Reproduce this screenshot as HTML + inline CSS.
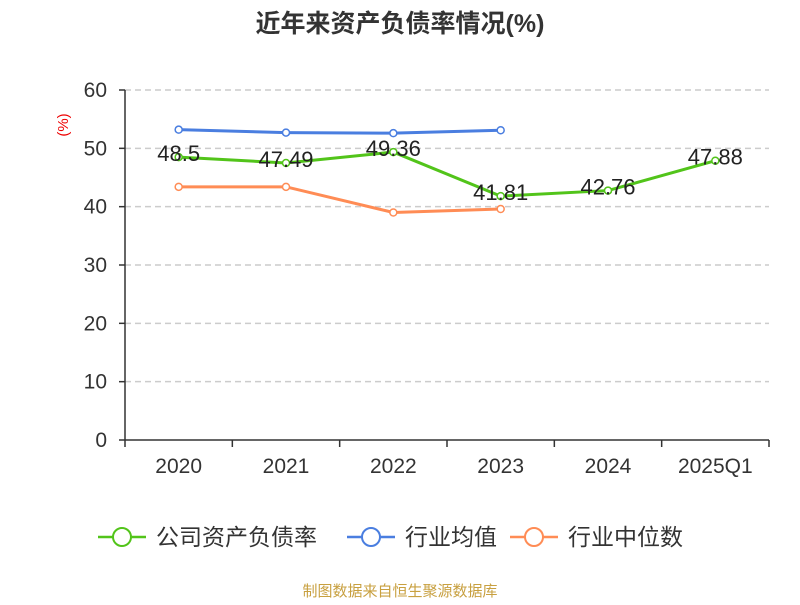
<!DOCTYPE html>
<html><head><meta charset="utf-8"><style>
body{margin:0;background:#fff;font-family:"Liberation Sans","Noto Sans CJK SC",sans-serif;}
</style></head><body>
<svg width="800" height="600" xmlns="http://www.w3.org/2000/svg" font-family="Liberation Sans, Noto Sans CJK SC, sans-serif">
<text x="400" y="32" text-anchor="middle" font-size="25" font-weight="bold" fill="#333">近年来资产负债率情况(%)</text>
<text transform="translate(68,125) rotate(-90)" text-anchor="middle" font-size="15" fill="#e00">(%)</text>
<g id="grid"></g><g id="axes"></g><g id="series"></g>
<g>
<g><line x1="98" y1="537" x2="146" y2="537" stroke="#52c41a" stroke-width="2.5"/><circle cx="122" cy="537" r="9" fill="#fff" stroke="#52c41a" stroke-width="2"/><text x="156" y="545" font-size="23" fill="#333">公司资产负债率</text></g>
<g><line x1="347" y1="537" x2="395" y2="537" stroke="#4a7ee0" stroke-width="2.5"/><circle cx="371" cy="537" r="9" fill="#fff" stroke="#4a7ee0" stroke-width="2"/><text x="405" y="545" font-size="23" fill="#333">行业均值</text></g>
<g><line x1="510" y1="537" x2="558" y2="537" stroke="#ff8c55" stroke-width="2.5"/><circle cx="534" cy="537" r="9" fill="#fff" stroke="#ff8c55" stroke-width="2"/><text x="568" y="545" font-size="23" fill="#333">行业中位数</text></g>
</g>
<text x="400" y="596" text-anchor="middle" font-size="15" fill="#c8a040">制图数据来自恒生聚源数据库</text>
</svg>
<script>
const categories=["2020","2021","2022","2023","2024","2025Q1"];
const companyValues=[48.5,47.49,49.36,41.81,42.76,47.88];
const avgValues=[53.2,52.7,52.6,53.1,null,null];
const medianValues=[43.4,43.4,39.0,39.6,null,null];
const yTicks=[0,10,20,30,40,50,60];
const NS="http://www.w3.org/2000/svg";
const L=125,R=769,T=90,B=440,yMax=60;
const band=(R-L)/categories.length;
const xs=i=>L+band*(i+0.5);
const ys=v=>B-(v/yMax)*(B-T);
function mk(tag,attrs,parent,text){const e=document.createElementNS(NS,tag);for(const k in attrs)e.setAttribute(k,attrs[k]);if(text!=null)e.textContent=text;parent.appendChild(e);return e;}
const grid=document.getElementById('grid'),axes=document.getElementById('axes'),ser=document.getElementById('series');
yTicks.forEach(t=>{
 if(t>0){const g=mk('line',{x1:L,x2:R,y1:ys(t),y2:ys(t),stroke:'#ccc','stroke-dasharray':'6,4','stroke-width':1.5},grid);
 
 }
 const tk=mk('line',{x1:L-6,x2:L,y1:ys(t),y2:ys(t),stroke:'#333','stroke-width':1.5},axes);
 
 
 const tl=mk('text',{x:L-18,y:ys(t)+7,'text-anchor':'end','font-size':21,fill:'#333'},axes,String(t));
 
 
});
const ya=mk('line',{x1:L,x2:L,y1:T,y2:B,stroke:'#333','stroke-width':1.5},axes);


const xa=mk('line',{x1:L,x2:R,y1:B,y2:B,stroke:'#333','stroke-width':1.5},axes);


for(let i=0;i<=categories.length;i++){const t=mk('line',{x1:L+band*i,x2:L+band*i,y1:B,y2:B+7,stroke:'#333','stroke-width':1.5},axes);
 
 }
categories.forEach((c,i)=>{const t=mk('text',{x:xs(i),y:B+33,'text-anchor':'middle','font-size':21,fill:'#333'},axes,c);
 
 });
function series(vals,color,name,labels){
 const pts=vals.map((v,i)=>v==null?null:[xs(i),ys(v)]).filter(p=>p);
 const pl=mk('polyline',{points:pts.map(p=>p.join(',')).join(' '),fill:'none',stroke:color,'stroke-width':3},ser);
 
 
 vals.forEach((v,i)=>{if(v==null)return;
  const c=mk('circle',{cx:xs(i),cy:ys(v),r:3.5,fill:'#fff',stroke:color,'stroke-width':1.5},ser);
  
  
  if(labels){const t=mk('text',{x:xs(i),y:ys(v)+4,'text-anchor':'middle','font-size':22,fill:'#222'},ser,String(v));
   
   }
 });
}
series(avgValues,'#4a7ee0','industry-avg',false);
series(medianValues,'#ff8c55','industry-median',false);
series(companyValues,'#52c41a','company',true);
</script>
</body></html>
